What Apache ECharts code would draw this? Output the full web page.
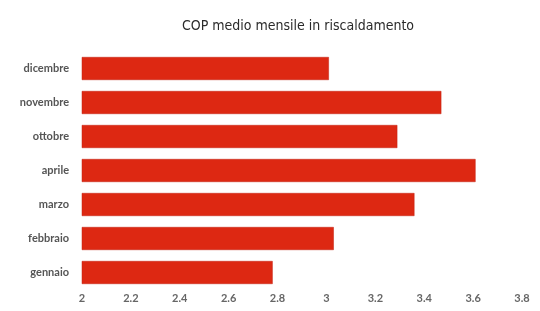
<!DOCTYPE html>
<html>
<head>
<meta charset="utf-8">
<script src="https://cdn.jsdelivr.net/npm/echarts@6/dist/echarts.min.js"></script>
<style>
html, body { margin: 0; padding: 0; background: #fff; }
#chart { width: 540px; height: 311px; }
</style>
</head>
<body>
<div id="chart"></div>
<script>
// mesi dal basso verso l'alto
var mesi = ['gennaio', 'febbraio', 'marzo', 'aprile', 'ottobre', 'novembre', 'dicembre'];
var cop = [2.78, 3.03, 3.36, 3.61, 3.29, 3.47, 3.01];
var tickLabels = ['2', '2.2', '2.4', '2.6', '2.8', '3', '3.2', '3.4', '3.6', '3.8'];

function showChart(divId) {
	var chart = echarts.init(document.getElementById(divId));
	chart.setOption(genOption(), true);
}

function genOption() {
	var option = {
		animation : false,
		title : {
			text : 'COP medio mensile in riscaldamento',
			left : 293,
			top : 14,
			textAlign : 'center',
			textStyle : {
				fontFamily : 'DejaVu Sans Condensed',
				fontSize : 14,
				fontWeight : 'normal',
				color : '#2a2a2a'
			}
		},
		grid : {
			left : 82,
			right : 18,
			top : 51.5,
			bottom : 21.5
		},
		xAxis : {
			type : 'value',
			min : 2,
			max : 3.8,
			interval : 0.2,
			axisLine : { show : false },
			axisTick : { show : false },
			splitLine : { show : false },
			axisLabel : {
				margin : 3,
				fontFamily : 'Lato',
				fontSize : 11,
				fontWeight : 'bold',
				color : '#666',
				formatter : function (v) {
					var i = Math.round((v - 2) / 0.2);
					return tickLabels[i] || '';
				}
			}
		},
		yAxis : {
			type : 'category',
			data : mesi,
			axisLine : { show : false },
			axisTick : { show : false },
			axisLabel : {
				margin : 13,
				fontFamily : 'Lato',
				fontSize : 11,
				fontWeight : 'bold',
				color : '#555'
			}
		},
		series : [ {
			type : 'bar',
			data : cop,
			barWidth : 23,
			itemStyle : {
				color : '#dd2812',
				borderColor : '#c42010',
				borderWidth : 0.5
			}
		} ]
	};
	return option;
}

showChart('chart');
</script>
</body>
</html>
